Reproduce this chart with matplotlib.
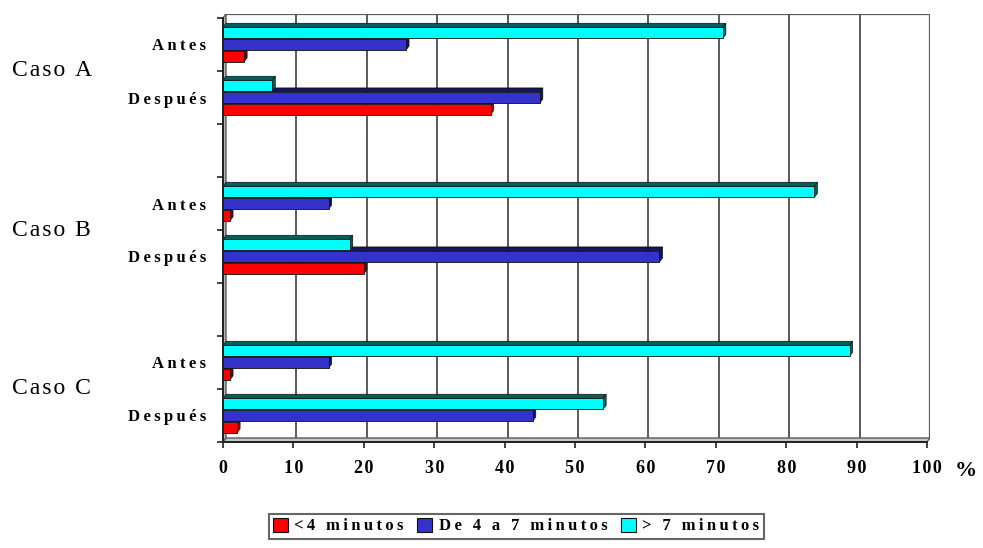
import matplotlib
matplotlib.use("Agg")
import matplotlib.pyplot as plt
import matplotlib.transforms as mtransforms
from matplotlib.patches import Polygon, Patch

plt.rcParams['font.family'] = ['Liberation Serif', 'DejaVu Serif']

casos = ['Caso A', 'Caso B', 'Caso C']
periodos = ['Antes', 'Después']
series = ['<4 minutos', 'De 4 a 7 minutos', '> 7 minutos']

# order: A antes, A despues, B antes, B despues, C antes, C despues
menos4 = [3, 38, 1, 20, 1, 2]
de4a7 = [26, 45, 15, 62, 15, 44]
mas7 = [71, 7, 84, 18, 89, 54]

xticks = list(range(0, 101, 10))

face_col = ['#ff0000', '#3333cc', '#00ffff']
dark_col = ['#7a0000', '#14145a', '#005f5f']


def tracked(s, sep='\u2009'):
    # wide letter spacing between glyphs
    return sep.join(s)


fig = plt.figure(figsize=(9.83, 5.48), dpi=100)
ax = fig.add_axes([223 / 983, 1 - 442 / 548, 707 / 983, 428 / 548])

px_x = 704 / 100.0      # pixels per % unit
px_y = 53.0             # pixels per category slot
DX = 3 / px_x           # depth of the 3d effect
DY = 4 / px_y

ax.set_xlim(0, 100 + DX)
ax.set_ylim(8, -DY)
for s in ax.spines.values():
    s.set_visible(False)

# slots: 0,1 caso A | 2 empty | 3,4 caso B | 5 empty | 6,7 caso C
slots = [0, 1, 3, 4, 6, 7]

# back wall grid, floor and left wall
grey = '#5a5a5a'
for v in xticks[1:-1]:
    ax.plot([v + DX, v + DX], [8 - DY, -DY], color=grey, lw=1.4, zorder=1)
ax.plot([DX, 100 + DX, 100 + DX], [-DY, -DY, 8 - DY], color=grey, lw=1.6, zorder=1)
ax.add_patch(Polygon([(0, 8), (100, 8), (100 + DX, 8 - DY), (DX, 8 - DY)],
                     closed=True, facecolor='#c8c8c8', edgecolor=grey, lw=1.0, zorder=1))
ax.add_patch(Polygon([(0, 8), (0, 0), (DX, -DY), (DX, 8 - DY)],
                     closed=True, facecolor='#b4b4b4', edgecolor=grey, lw=1.0, zorder=1))

# bars with top and right faces, lower bar first
H = 0.21
offsets = [0.72, 0.50, 0.28]
values = [menos4, de4a7, mas7]
z = 3
for k, slot in enumerate(slots):
    for j in range(3):
        v = values[j][k]
        yc = slot + offsets[j]
        y0, y1 = yc - H / 2, yc + H / 2
        top = Polygon([(0, y0), (v, y0), (v + DX, y0 - DY), (DX, y0 - DY)], closed=True,
                      facecolor=dark_col[j], edgecolor='#101010', lw=0.5, zorder=z)
        side = Polygon([(v, y0), (v, y1), (v + DX, y1 - DY), (v + DX, y0 - DY)], closed=True,
                       facecolor=dark_col[j], edgecolor='#101010', lw=0.5, zorder=z)
        ax.add_patch(top)
        ax.add_patch(side)
        ax.barh(yc, v, height=H, color=face_col[j], edgecolor='#101010', lw=0.6, zorder=z + 0.5)
        z += 1

# front axes
ax.plot([0, 0], [0, 8], color='#202020', lw=1.4, zorder=z + 1, clip_on=False)
ax.plot([0, 100], [8, 8], color='#202020', lw=1.4, zorder=z + 1, clip_on=False)

ax.set_xticks(xticks)
ax.set_xticklabels([tracked(str(t), '\u200a') for t in xticks], fontsize=13, fontweight='bold')
ax.tick_params(axis='x', direction='out', length=4, width=1.2, pad=9, color='#202020')

ax.set_yticks(range(9))
ax.set_yticklabels([])
ax.tick_params(axis='y', which='major', direction='out', length=4, width=1.2, color='#202020')
ax.set_yticks([s + 0.5 for s in slots], minor=True)
ax.set_yticklabels([tracked(p) for p in periodos * 3], minor=True,
                   fontsize=12, fontweight='bold')
ax.tick_params(axis='y', which='minor', length=0, pad=12)

# case labels between Antes and Despues
trans = mtransforms.blended_transform_factory(fig.transFigure, ax.transData)
for caso, yb in zip(casos, [1, 4, 7]):
    ax.text(12 / 983, yb, tracked(caso, '\u200a'), transform=trans, fontsize=17,
            ha='left', va='center')

fig.text(966 / 983, 1 - 471 / 548, '%', fontsize=16, fontweight='bold',
         ha='center', va='center')

handles = [Patch(facecolor=c, edgecolor='#101010', lw=0.8) for c in face_col]
leg = fig.legend(handles, [tracked(s) for s in series], loc='center',
                 bbox_to_anchor=(516 / 983, 1 - 526 / 548),
                 ncol=3, fancybox=False, edgecolor='#404040',
                 prop={'weight': 'bold', 'size': 12}, handlelength=0.9, handleheight=0.9,
                 handletextpad=0.4, columnspacing=0.8, borderpad=0.25, borderaxespad=0)
leg.get_frame().set_linewidth(1.5)

fig.savefig('out.png', dpi=100)
